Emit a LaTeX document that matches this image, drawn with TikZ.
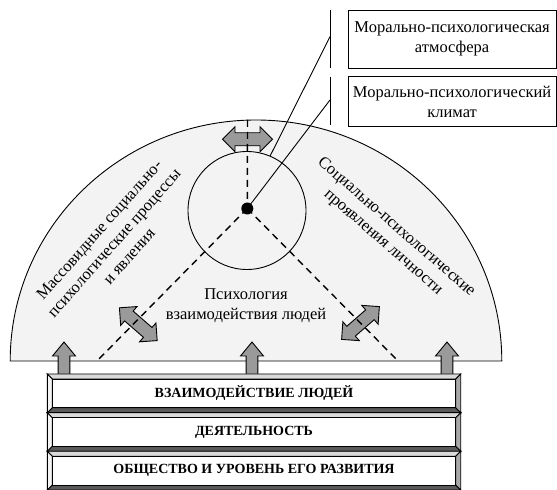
\documentclass[tikz,border=0pt]{standalone}
\usepackage{fontspec}
\setmainfont{Liberation Serif}
\definecolor{arcfill}{HTML}{F3F3F3}
\definecolor{arrgray}{HTML}{9A9A9A}
\definecolor{bvtop}{HTML}{DADADA}
\definecolor{bvleft}{HTML}{F4F4F4}
\definecolor{bvright}{HTML}{A8A8A8}
\definecolor{bvbot}{HTML}{5A5A5A}
\tikzset{
  thin line/.style={line width=0.9pt},
  dashline/.style={line width=1.4pt, dash pattern=on 7pt off 5pt},
  arrowshape/.style={fill=arrgray, draw=black, line width=0.9pt, line join=miter},
  txt/.style={font=\fontsize{16.5}{20}\selectfont, align=center, inner sep=0pt},
  boxtxt/.style={font=\fontsize{14}{16}\selectfont\bfseries, inner sep=0pt},
  pics/dblarrow/.style={code={
    \draw[arrowshape] (-25,0) -- (-12.5,12.5) -- (-12.5,6.5) -- (12.5,6.5) -- (12.5,12.5) -- (25,0)
      -- (12.5,-12.5) -- (12.5,-6.5) -- (-12.5,-6.5) -- (-12.5,-12.5) -- cycle;}},
  pics/uparrow/.style={code={
    \draw[arrowshape] (-5.85,0) -- (-5.85,24) -- (-11.5,24) -- (0,38) -- (11.5,24) -- (5.85,24) -- (5.85,0) -- cycle;}}
}
\newcommand\bevbox[4]{%
  \pgfmathsetmacro\bvAx{#1+5}\pgfmathsetmacro\bvAy{#2+5}%
  \pgfmathsetmacro\bvBx{#3-5}\pgfmathsetmacro\bvBy{#4-5}%
  \filldraw[fill=bvtop, thin line] (#1,#4) -- (#3,#4) -- (\bvBx,\bvBy) -- (\bvAx,\bvBy) -- cycle;
  \filldraw[fill=bvbot, thin line] (#1,#2) -- (#3,#2) -- (\bvBx,\bvAy) -- (\bvAx,\bvAy) -- cycle;
  \filldraw[fill=bvleft, thin line] (#1,#2) -- (#1,#4) -- (\bvAx,\bvBy) -- (\bvAx,\bvAy) -- cycle;
  \filldraw[fill=bvright, thin line] (#3,#2) -- (#3,#4) -- (\bvBx,\bvBy) -- (\bvBx,\bvAy) -- cycle;
  \filldraw[fill=white, thin line] (\bvAx,\bvAy) rectangle (\bvBx,\bvBy);
}
\begin{document}
\begin{tikzpicture}[x=1pt,y=1pt]
\useasboundingbox (0,0) rectangle (557,490);
% big half ellipse
\filldraw[fill=arcfill, thin line] (10.2,129) arc[start angle=180, end angle=0, x radius=245.8, y radius=241] -- cycle;
% circle
\node[draw, thin line, circle, minimum size=118pt, inner sep=0pt] (circ) at (247,279.5) {};
\coordinate (dot) at (247.3,281.5);
\coordinate (top) at (247.5,370);
\coordinate (bl) at (97,129);
\coordinate (br) at (398,129);
% double arrows
\pic at (247.5,350.7) {dblarrow};
\pic[rotate=-41] at (138.3,165.8) {dblarrow};
\pic[rotate=41] at (360.5,167) {dblarrow};
% dashed lines
\draw[dashline] (top) -- (dot);
\draw[dashline] (dot) -- (bl);
\draw[dashline] (dot) -- (br);
% right boxes and brackets
\node[draw, thin line, minimum width=207.7pt, minimum height=58.3pt, txt] (atm) at (452.15,450.85) {Морально-психологическая\\атмосфера};
\node[draw, thin line, minimum width=207.7pt, minimum height=50pt, txt] (klim) at (452.15,388.3) {Морально-психологический\\климат};
\coordinate (brA1) at (330,480);
\coordinate (brA2) at (330,421.7);
\coordinate (brB1) at (330,413.3);
\coordinate (brB2) at (330,365);
\coordinate (brAm) at (330,453.3);
\coordinate (brBm) at (330,390);
\draw[thin line] (brA1) -- (brA2);
\draw[thin line] (brB1) -- (brB2);
\draw[thin line] (brAm) -- (circ.67);
\draw[thin line] (brBm) -- (dot);
\fill (dot) circle (6pt);
% texts in the half ellipse
\node[txt] (mid) at (246,184) {Психология\\взаимодействия людей};
\node[txt, rotate=48.5] (lefttxt) at (114,247) {Массовидные социально-\\психологические процессы\\и явления};
\node[txt, rotate=-41] (righttxt) at (389.6,255.1) {Социально-психологические\\проявления личности};
% up arrows
\pic at (64,110) {uparrow};
\pic at (252,110) {uparrow};
\pic at (447,110) {uparrow};
% bottom boxes
\bevbox{47.3}{77.3}{460.7}{116}
\bevbox{47.3}{38.7}{460.7}{77.3}
\bevbox{47.3}{0}{460.7}{38.7}
\node[boxtxt] (b1) at (254,96.7) {ВЗАИМОДЕЙСТВИЕ ЛЮДЕЙ};
\node[boxtxt] (b2) at (254,58) {ДЕЯТЕЛЬНОСТЬ};
\node[boxtxt] (b3) at (254,19.3) {ОБЩЕСТВО И УРОВЕНЬ ЕГО РАЗВИТИЯ};
\end{tikzpicture}
\end{document}
